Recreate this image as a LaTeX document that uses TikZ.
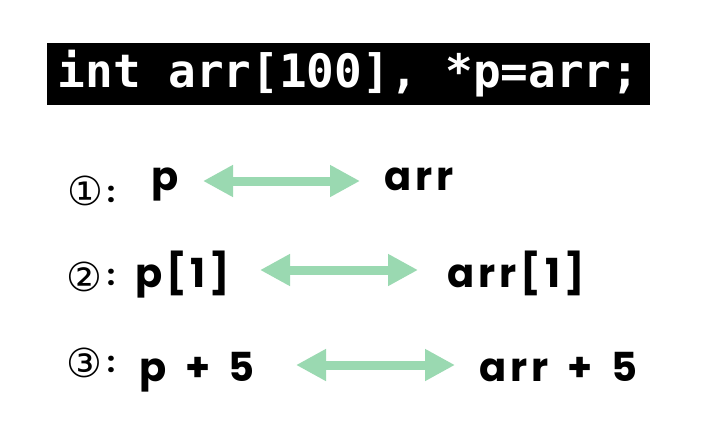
\documentclass[tikz,border=0pt]{standalone}
\usepackage{fontspec}
\newfontfamily\codefont{DejaVu Sans Mono}
\newfontfamily\rowfont[LetterSpace=10,WordSpace=1.5]{Poppins}
\newfontfamily\numfont{DejaVu Sans}
\usetikzlibrary{arrows.meta}
\definecolor{mint}{HTML}{9AD9B1}
\begin{document}
\begin{tikzpicture}[x=1pt,y=-1pt,
		expr/.style={font=\rowfont\bfseries\fontsize{40}{42}\selectfont,inner sep=0pt,anchor=base west},
		num/.style={font=\numfont\fontsize{40}{42}\selectfont,inner sep=0pt},
		colon/.style={font=\rowfont\bfseries\fontsize{28}{30}\selectfont,inner sep=0pt},
		twoway/.style={mint,line width=9pt,{Triangle[length=30pt,width=30pt]}-{Triangle[length=30pt,width=30pt]}}]
				\useasboundingbox[fill=white] (0,0) rectangle (712,426);
				
				\node[fill=black,text=white,font=\codefont\bfseries\fontsize{46}{48}\selectfont,minimum width=603pt,minimum height=62pt,inner sep=0pt] (code) at (348.5,74) {int arr[100], *p=arr;};
				
				\node[num] (n1) at (85,191) {①};
				\node[colon] (c1) at (111,194) {:};
				\node[expr] (p1) at (151,190) {p};
				\node[expr] (a1) at (384,190) {arr};
				\coordinate (s1) at (203,181);
				\coordinate (e1) at (360,181);
				\draw[twoway] (s1) -- (e1);
				
				\node[num] (n2) at (84,277) {②};
				\node[colon] (c2) at (111,277) {:};
				\node[expr] (p2) at (135,287) {p[1]};
				\node[expr] (a2) at (447,287) {arr[1]};
				\coordinate (s2) at (260,270);
				\coordinate (e2) at (418,270);
				\draw[twoway] (s2) -- (e2);
				
				\node[num] (n3) at (84,363) {③};
				\node[colon] (c3) at (111,364) {:};
				\node[expr] (p3) at (139,381) {p + 5};
				\node[expr] (a3) at (479,381) {arr + 5};
				\coordinate (s3) at (296,365);
				\coordinate (e3) at (455,365);
				\draw[twoway] (s3) -- (e3);
				
			\end{tikzpicture}
\end{document}
